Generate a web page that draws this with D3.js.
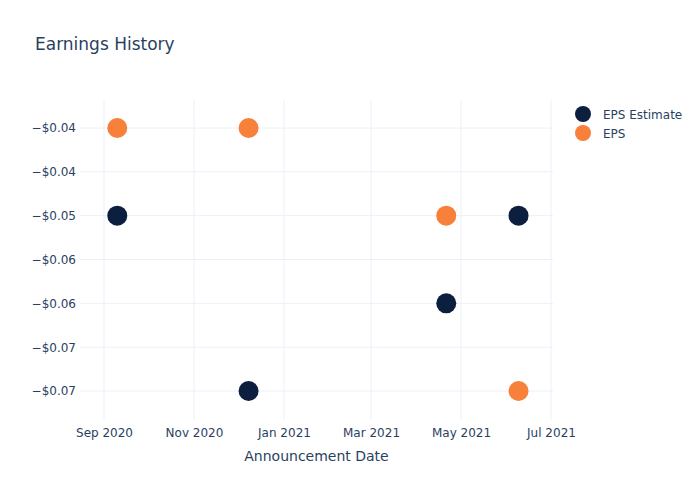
<!DOCTYPE html>
<html>
<head>
<meta charset="utf-8">
<script src="https://cdn.jsdelivr.net/npm/d3@7"></script>
<style>
  body { margin: 0; background: #fff; }
  text { font-family: "DejaVu Sans", Verdana, sans-serif; fill: #2a3f5f; }
</style>
</head>
<body>
<div id="chart"></div>
<script>
const dates = ["2020-09-10", "2020-12-08", "2021-04-21", "2021-06-09"];
const epsEstimate = [-0.05, -0.07, -0.06, -0.05];
const eps = [-0.04, -0.04, -0.05, -0.07];
const yTicks = [-0.04, -0.045, -0.05, -0.055, -0.06, -0.065, -0.07];
const yTickLabels = ["−$0.04", "−$0.04", "−$0.05", "−$0.06", "−$0.06", "−$0.07", "−$0.07"];
const xTicks = ["2020-09-01", "2020-11-01", "2021-01-01", "2021-03-01", "2021-05-01", "2021-07-01"];
const seriesNames = ["EPS Estimate", "EPS"];
const colors = ["#0c1f3f", "#f7803a"];

function renderScatter() {
    const width = 700, height = 500;
    const left = 80, right = 553, top = 100, bottom = 420;
    const parse = d3.utcParse("%Y-%m-%d");

    const svg = d3.select("#chart").append("svg")
        .attr("width", width)
        .attr("height", height);

    // anchor the time scale on two tick positions, then widen to plot edges
    const x0 = d3.scaleUtc().domain([parse(xTicks[0]), parse(xTicks[5])]).range([104, 551]);
    const x = d3.scaleUtc().domain([x0.invert(left), x0.invert(right)]).range([left, right]);

    const y0 = d3.scaleLinear().domain([-0.04, -0.07]).range([128, 391]);
    const y = d3.scaleLinear().domain([y0.invert(top), y0.invert(bottom)]).range([top, bottom]);

    // grid
    svg.append("g").selectAll("line").data(xTicks).enter().append("line")
        .attr("x1", d => x(parse(d))).attr("x2", d => x(parse(d)))
        .attr("y1", top).attr("y2", bottom)
        .attr("stroke", "#ebf0f8").attr("stroke-width", 1);
    svg.append("g").selectAll("line").data(yTicks).enter().append("line")
        .attr("x1", left).attr("x2", right)
        .attr("y1", d => y(d)).attr("y2", d => y(d))
        .attr("stroke", "#ebf0f8").attr("stroke-width", 1);

    // axes
    const xAxis = svg.append("g").attr("transform", `translate(0,${bottom})`)
        .call(d3.axisBottom(x).tickValues(xTicks.map(parse)).tickFormat(d3.utcFormat("%b %Y")).tickSize(0).tickPadding(8));
    const yAxis = svg.append("g").attr("transform", `translate(${left},0)`)
        .call(d3.axisLeft(y).tickValues(yTicks).tickFormat((d, i) => yTickLabels[i]).tickSize(0).tickPadding(4));
    [xAxis, yAxis].forEach(a => {
        a.select(".domain").remove();
        a.selectAll("text").attr("font-size", 12).attr("fill", "#2a3f5f")
            .style("font-family", "'DejaVu Sans', Verdana, sans-serif");
    });

    // points
    [epsEstimate, eps].forEach((values, s) => {
        svg.append("g").selectAll("circle").data(values).enter().append("circle")
            .attr("cx", (d, i) => x(parse(dates[i])))
            .attr("cy", d => y(d))
            .attr("r", 10)
            .attr("fill", colors[s]);
    });

    // title and axis label
    svg.append("text").attr("x", 35).attr("y", 50).attr("font-size", 17).text("Earnings History");
    svg.append("text").attr("x", (left + right) / 2).attr("y", 461)
        .attr("text-anchor", "middle").attr("font-size", 14).text("Announcement Date");

    // legend
    const legend = svg.append("g").selectAll("g").data(seriesNames).enter().append("g")
        .attr("transform", (d, i) => `translate(583,${114 + i * 19})`);
    legend.append("circle").attr("r", 8).attr("fill", (d, i) => colors[i]);
    legend.append("text").attr("x", 20).attr("y", 4.5).attr("font-size", 12).text(d => d);
}

renderScatter();
</script>
</body>
</html>
